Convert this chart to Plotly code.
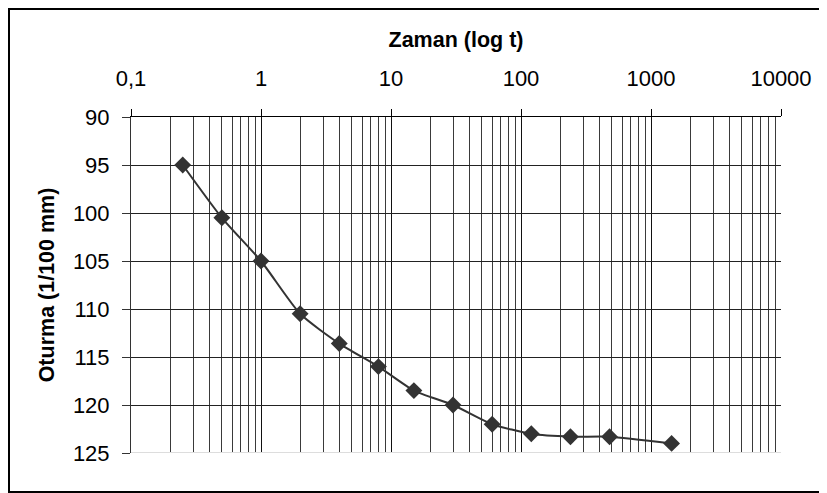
import plotly.graph_objects as go

# Data
zaman = [0.25, 0.5, 1, 2, 4, 8, 15, 30, 60, 120, 240, 480, 1440]
oturma = [95, 100.5, 105, 110.5, 113.6, 116, 118.5, 120, 122, 123, 123.3, 123.3, 124]

x_tickvals = [0.1, 1, 10, 100, 1000, 10000]
x_ticktext = ["0,1", "1", "10", "100", "1000", "10000"]
y_tickvals = [90, 95, 100, 105, 110, 115, 120, 125]

FONT = "Liberation Sans, Arial, sans-serif"

# The page body has an 8px default margin, so the figure is sized to fill the rest.
W, H = 819, 485
L, R, T, B = 123, 46, 109, 40
PW, PH = W - L - R, H - T - B

fig = go.Figure()
fig.add_trace(go.Scatter(
    x=zaman, y=oturma, mode="lines+markers",
    line=dict(color="#333333", width=2, shape="spline", smoothing=0.6),
    marker=dict(symbol="diamond", size=13, color="#333333"),
    showlegend=False, cliponaxis=False,
))

fig.update_layout(
    width=W, height=H,
    margin=dict(l=L, r=R, t=T, b=B, autoexpand=False),
    paper_bgcolor="white", plot_bgcolor="white",
    font=dict(family=FONT, color="black", size=20),
    xaxis=dict(
        type="log", side="top", range=[-1, 4], automargin=False,
        tickvals=x_tickvals, ticktext=x_ticktext,
        ticks="outside", ticklen=7, tickcolor="black",
        showline=True, linecolor="black", linewidth=1,
        showgrid=True, gridcolor="#111111", gridwidth=1,
        minor=dict(showgrid=True, dtick="D1", gridcolor="#3a3a3a", gridwidth=1, ticks=""),
        tickfont=dict(size=22, family=FONT),
        ticklabelstandoff=14,
        title=dict(text="<b>Zaman (log t)</b>", font=dict(size=21.5, family=FONT), standoff=12),
        zeroline=False,
    ),
    yaxis=dict(
        range=[125, 90], tickvals=y_tickvals, automargin=False,
        ticks="outside", ticklen=8, tickcolor="#333333",
        showline=True, linecolor="#333333", linewidth=1,
        showgrid=True, gridcolor="#222222", gridwidth=1,
        tickfont=dict(size=22, family=FONT),
        ticklabelstandoff=8,
        title=dict(text="<b>Oturma (1/100 mm)</b>", font=dict(size=21.5, family=FONT), standoff=12),
        zeroline=False,
    ),
    shapes=[
        dict(type="line", xref="paper", yref="y", x0=0, x1=1, y0=125, y1=125,
             line=dict(color="#dddddd", width=2), layer="above"),
        dict(type="rect", xref="paper", yref="paper",
             x0=(1 - L) / PW, x1=(830 - L) / PW,
             y0=(T + PH - 484) / PH, y1=(T + PH - 1) / PH,
             line=dict(color="black", width=2), fillcolor="rgba(0,0,0,0)", layer="below"),
    ],
)

fig.write_html("out.html")
